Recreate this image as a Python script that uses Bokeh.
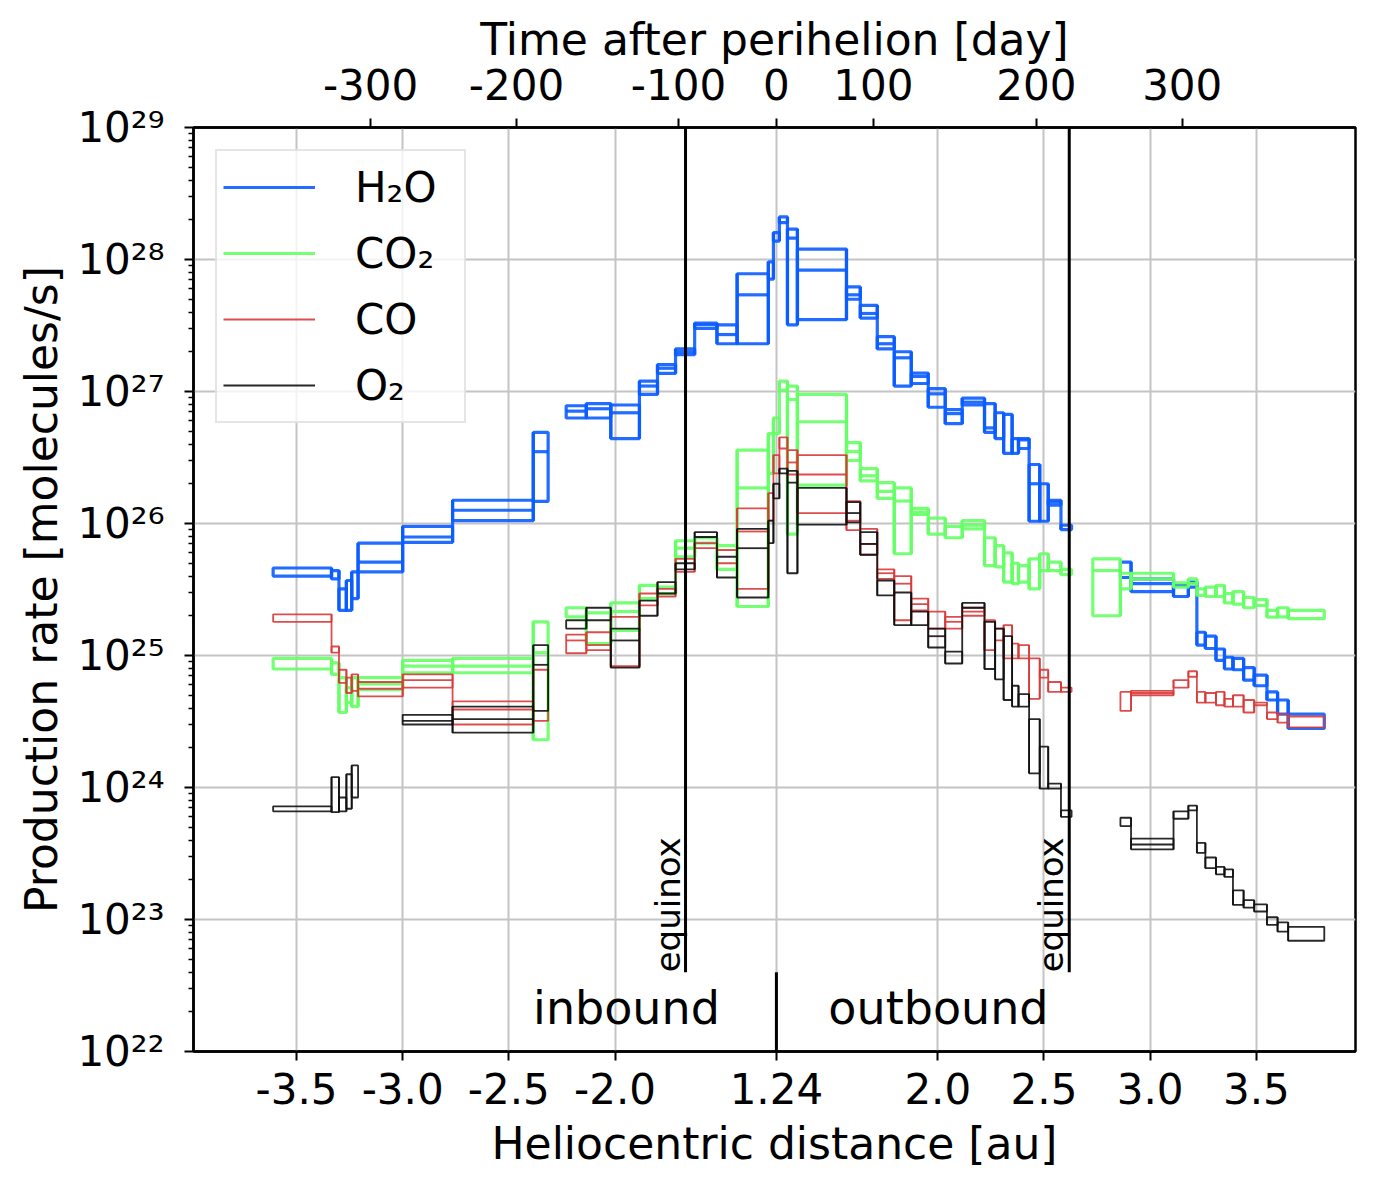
import math
from bokeh.plotting import figure
from bokeh.models import Range1d, FixedTicker, LinearAxis, Legend, LegendItem, ColumnDataSource
from bokeh.embed import file_html
from bokeh.resources import INLINE
from bokeh.core.properties import value

FONT = "DejaVu Sans"
R_PERI = 1.24  # perihelion distance [au]

# ---------------- data ----------------
# interval edges in signed heliocentric distance (negative = inbound) [au]
r_start = [-3.61, -3.335, -3.30, -3.265, -3.24, -3.21, -3.00, -2.765, -2.385,
           -2.23, -2.135, -2.02, -1.885, -1.80, -1.715, -1.625, -1.52, -1.425, -1.278, -1.254,
           1.254, 1.292, 1.339, 1.57, 1.635, 1.715, 1.795, 1.875, 1.955, 2.035, 2.115, 2.22, 2.27, 2.31, 2.35, 2.38, 2.43, 2.48, 2.52, 2.58,
           2.73, 2.86, 2.91, 3.11, 3.18, 3.22, 3.26, 3.31, 3.35, 3.39, 3.44, 3.49, 3.55, 3.60, 3.65]
r_end = [-3.335, -3.30, -3.265, -3.24, -3.21, -3.00, -2.765, -2.385, -2.315,
         -2.135, -2.02, -1.885, -1.80, -1.715, -1.625, -1.52, -1.425, -1.278, -1.254, 1.254,
         1.292, 1.339, 1.57, 1.635, 1.715, 1.795, 1.875, 1.955, 2.035, 2.115, 2.22, 2.27, 2.31, 2.35, 2.38, 2.43, 2.48, 2.52, 2.58, 2.63,
         2.86, 2.91, 3.11, 3.18, 3.22, 3.26, 3.31, 3.35, 3.39, 3.44, 3.49, 3.55, 3.60, 3.65, 3.82]

# production rates [molecules/s]: lower bound, middle, upper bound per interval
h2o_lo = [4.0e25, 3.8e25, 2.2e25, 2.2e25, 2.7e25, 4.3e25, 7.2e25, 1.05e26, 1.47e26,
          6.3e26, 6.3e26, 4.4e26, 9.5e26, 1.37e27, 1.9e27, 3.0e27, 2.3e27, 2.3e27, 7.1e27, 1.38e28,
          1.9e28, 3.2e27, 3.5e27, 5.0e27, 3.6e27, 2.1e27, 1.1e27, 1.15e27, 7.6e26, 5.7e26, 7.9e26, 4.9e26, 4.4e26, 3.4e26, 3.4e26, 3.7e26, 1.04e26, 1.04e26, 1.38e26, 9.0e25,
          None, 3.9e25, 3.05e25, 2.8e25, 3.3e25, 1.2e25, 1.13e25, 9.2e24, 7.9e24, 7.8e24, 6.5e24, 5.9e24, 4.6e24, 3.6e24, 2.8e24]
h2o_mid = [None, None, None, None, None, 5.1e25, 7.9e25, 1.26e26, 3.5e26,
           7.1e26, 7.4e26, 6.9e26, 1.1e27, 1.5e27, 2.0e27, 3.2e27, 2.7e27, 5.4e27, None, None,
           None, 1.45e28, 8.3e27, 5.4e27, 3.9e27, 2.3e27, 1.8e27, 1.3e27, 9.6e26, 6.8e26, 8.3e26, 5.3e26, None, None, None, 4.3e26, 2.0e26, None, 1.45e26, None,
           None, None, 3.5e25, None, None, None, None, None, None, None, None, None, None, None, None]
h2o_hi = [4.6e25, 4.4e25, 3.2e25, 3.7e25, 4.3e25, 7.1e25, 9.5e25, 1.5e26, 4.9e26,
          7.8e26, 8.1e26, 7.9e26, 1.2e27, 1.6e27, 2.1e27, 3.3e27, 3.2e27, 7.8e27, 9.6e27, 1.6e28,
          2.1e28, 1.7e28, 1.2e28, 6.2e27, 4.5e27, 2.6e27, 2.0e27, 1.38e27, 1.05e27, 7.3e26, 8.9e26, 8.1e26, 6.9e26, 6.7e26, 4.4e26, 4.4e26, 2.8e26, 2.0e26, 1.5e26, 9.7e25,
          None, 5.1e25, 3.8e25, 3.4e25, 3.6e25, 1.5e25, 1.4e25, 1.12e25, 9.7e24, 9.5e24, 8.1e24, 7.1e24, 5.3e24, 4.6e24, 3.6e24]

co2_lo = [7.9e24, 7.2e24, 3.7e24, 4.4e24, 4.1e24, 5.5e24, 7.4e24, 7.4e24, 2.3e24,
          1.96e25, 1.23e25, 1.55e25, 2.7e25, 2.95e25, 5.6e25, 7.1e25, 4.5e25, 2.35e25, 2.4e26, 4.8e26,
          1.02e27, 8.3e25, 1.95e26, 3.0e26, 2.1e26, 1.55e26, 5.9e25, 1.17e26, 8.3e25, 7.8e25, 9.1e25, 4.8e25, 4.7e25, 3.6e25, 3.5e25, 3.6e25, 3.2e25, 4.4e25, 4.4e25, 4.1e25,
          2.0e25, 3.2e25, 3.8e25, 3.3e25, 3.5e25, 2.85e25, 2.8e25, 2.8e25, 2.5e25, 2.45e25, 2.3e25, 2.4e25, 1.95e25, 1.96e25, 1.9e25]
co2_mid = [None, None, None, None, None, 6.1e24, 8.3e24, 8.3e24, 1.05e25,
           None, None, 2.15e25, None, None, 6.5e25, None, None, 1.86e26, None, None,
           None, 8.7e26, 5.9e26, 3.5e26, 2.3e26, 1.75e26, 1.48e26, 1.22e26, None, None, 9.7e25, None, None, None, None, None, None, None, None, None,
           4.4e25, None, None, None, None, None, None, None, None, None, None, None, None, None, None]
co2_hi = [9.5e24, 8.8e24, 6.8e24, 5.7e24, 6.8e24, 6.8e24, 9.2e24, 9.5e24, 1.8e25,
          2.3e25, 2.1e25, 2.5e25, 3.4e25, 3.3e25, 7.4e25, 7.8e25, 6.8e25, 3.6e26, 4.8e26, 6.3e26,
          1.2e27, 1.1e27, 9.5e26, 4.1e26, 2.6e26, 2.04e26, 1.86e26, 1.3e26, 1.1e26, 9.5e25, 1.05e26, 7.8e25, 6.8e25, 6.0e25, 5.0e25, 4.8e25, 5.4e25, 5.9e25, 5.1e25, 4.5e25,
          5.4e25, 4.2e25, 4.2e25, 3.55e25, 3.8e25, 3.2e25, 3.3e25, 3.4e25, 2.95e25, 3.05e25, 2.75e25, 2.65e25, 2.2e25, 2.3e25, 2.2e25]

co_lo = [1.8e25, 1.05e25, 6.2e24, 5.2e24, 5.4e24, 4.9e24, 5.7e24, 3.0e24, 3.2e24,
         1.04e25, 1.1e25, 8.3e24, 2.4e25, 2.8e25, 4.3e25, 6.5e25, 5.0e25, 3.2e25, 1.05e26, 2.4e26,
         3.7e26, 2.35e26, 1.2e26, 8.9e25, 5.8e25, 3.8e25, 1.85e25, 2.2e25, 1.6e25, 1.6e25, 2.0e25, 1.1e25, 1.3e25, 9.5e24, 9.5e24, 9.5e24, 4.7e24, 6.8e24, 5.3e24, 5.3e24,
         None, 3.8e24, 5.0e24, 5.7e24, 6.9e24, 4.4e24, 4.4e24, 4.2e24, 4.1e24, 4.1e24, 3.7e24, 4.2e24, 3.3e24, 3.1e24, 2.85e24]
co_mid = [None, None, None, None, None, 5.6e24, 6.5e24, 3.9e24, None,
          1.3e25, 1.2e25, None, None, None, None, None, None, 8.7e25, None, None,
          None, 2.9e26, 2.35e26, 1.05e26, 7.0e25, 4.2e25, 3.5e25, 2.45e25, None, 1.8e25, 2.15e25, None, None, None, None, None, None, None, None, None,
          None, None, 5.2e24, None, None, None, None, None, None, None, None, None, None, None, None]
co_hi = [2.05e25, 1.17e25, 7.8e24, 6.8e24, 7.2e24, 6.3e24, 7.2e24, 4.5e24, 7.8e24,
         1.44e25, 1.5e25, 1.96e25, 2.95e25, 3.2e25, 5.4e25, 7.1e25, 6.3e25, 1.3e26, 1.7e26, 3.3e26,
         4.5e26, 3.6e26, 3.3e26, 1.48e26, 9.1e25, 4.5e25, 4.0e25, 2.7e25, 2.15e25, 1.96e25, 2.3e25, 1.85e25, 1.6e25, 1.7e25, 1.23e25, 1.2e25, 9.5e24, 7.8e24, 6.3e24, 5.7e24,
         None, 5.3e24, 5.4e24, 6.5e24, 7.6e24, 5.3e24, 5.2e24, 5.3e24, 4.7e24, 5.0e24, 4.6e24, 4.4e24, 3.7e24, 3.6e24, 3.45e24]

o2_lo = [6.6e23, 6.5e23, 6.6e23, 6.9e23, 8.4e23, None, 3.0e24, 2.6e24, 3.8e24,
         1.6e25, 1.85e25, 8.1e24, 2.0e25, 2.95e25, 4.5e25, 7.9e25, 3.9e25, 2.75e25, 7.1e25, 1.55e26,
         2.4e26, 4.2e25, 9.8e25, 1.02e26, 5.8e25, 2.85e25, 1.7e25, 1.7e25, 1.15e25, 8.7e24, 2.3e25, 7.9e24, 6.6e24, 4.6e24, 4.1e24, 4.1e24, 1.28e24, 9.8e23, 9.8e23, 6.0e23,
         None, 5.1e23, 3.4e23, 5.8e23, 6.7e23, 3.2e23, 2.45e23, 2.2e23, 2.1e23, 1.29e23, 1.23e23, 1.15e23, 9.1e22, 8.1e22, 6.9e22]
o2_mid = [None, None, None, None, None, None, 3.2e24, 3.3e24, 8.5e24,
          None, None, 1.3e25, None, None, None, None, None, 6.5e25, None, None,
          None, 2.04e26, None, 1.2e26, 7.0e25, None, None, None, 1.4e25, None, None, None, None, None, None, None, None, None, None, None,
          None, None, 3.7e23, None, None, None, None, None, None, None, None, None, None, None, None]
o2_hi = [7.2e23, 1.2e24, 8.4e23, 1.26e24, 1.47e24, None, 3.55e24, 4.1e24, 1.2e25,
         1.85e25, 2.3e25, 1.6e25, 2.6e25, 3.6e25, 5.0e25, 8.6e25, 5.6e25, 9.1e25, 1.05e26, 2.0e26,
         2.6e26, 2.5e26, 1.86e26, 1.45e26, 8.6e25, 3.7e25, 3.0e25, 2.15e25, 1.6e25, 1.07e25, 2.5e25, 1.8e25, 1.6e25, 1.4e25, 5.9e24, 5.1e24, 3.3e24, 2.04e24, 1.07e24, 6.7e23,
         None, 5.9e23, 4.1e23, 6.6e23, 7.3e23, 3.8e23, 2.95e23, 2.5e23, 2.4e23, 1.66e23, 1.4e23, 1.3e23, 1.04e23, 9.5e22, 8.8e22]

species = ["H\u2082O", "CO\u2082", "CO", "O\u2082"]
colors = ["#0a5cff", "#66ff66", "#d83a3a", "#111111"]
widths = [3.2, 3.2, 1.8, 1.8]
series = [(h2o_lo, h2o_mid, h2o_hi), (co2_lo, co2_mid, co2_hi), (co_lo, co_mid, co_hi), (o2_lo, o2_mid, o2_hi)]

bottom_tick_r = [-3.5, -3.0, -2.5, -2.0, 1.24, 2.0, 2.5, 3.0, 3.5]
bottom_tick_labels = ["-3.5", "-3.0", "-2.5", "-2.0", "1.24", "2.0", "2.5", "3.0", "3.5"]
top_tick_days = [-300, -200, -100, 0, 100, 200, 300]
top_tick_r = [-3.151, -2.464, -1.701, 1.24, 1.697, 2.464, 3.151]  # distance at those days
y_decades = [22, 23, 24, 25, 26, 27, 28, 29]

equinox_r = [-1.668, 2.619]
phase_label_r = [-1.946, 2.003]
phase_labels = ["inbound", "outbound"]


def to_x(r):
    """signed heliocentric distance -> axis coordinate (perihelion at 0)"""
    return math.copysign(abs(r) - R_PERI, r)


# ---------------- figure ----------------
p = figure(width=1384, height=1186,
           x_range=Range1d(to_x(-3.985), to_x(3.967)),
           y_range=Range1d(1e22, 1e29), y_axis_type="log",
           output_backend="svg", toolbar_location=None,
           min_border_left=193, min_border_right=29,
           min_border_top=127, min_border_bottom=135)
p.background_fill_color = "white"
p.outline_line_color = "black"
p.outline_line_width = 2.5
p.outline_line_alpha = 1.0

# bottom axis
xb = p.below[0]
bt = [to_x(r) for r in bottom_tick_r]
xb.ticker = FixedTicker(ticks=bt)
xb.major_label_overrides = {t: l for t, l in zip(bt, bottom_tick_labels)}
xb.axis_label = "Heliocentric distance [au]"

# top axis
tt = [to_x(r) for r in top_tick_r]
xt = LinearAxis(ticker=FixedTicker(ticks=tt),
                major_label_overrides={t: str(d) for t, d in zip(tt, top_tick_days)},
                axis_label="Time after perihelion [day]")
p.add_layout(xt, "above")

# left axis
sup = str.maketrans("0123456789", "\u2070\u00b9\u00b2\u00b3\u2074\u2075\u2076\u2077\u2078\u2079")
y_major = [10.0 ** k for k in y_decades]
y_minor = [m * 10.0 ** k for k in y_decades[:-1] for m in range(2, 10)]
yl = p.left[0]
yl.ticker = FixedTicker(ticks=y_major, minor_ticks=y_minor)
yl.major_label_overrides = {v: "10" + str(k).translate(sup) for v, k in zip(y_major, y_decades)}
yl.axis_label = "Production rate [molecules/s]"

for ax in (xb, xt, yl):
    ax.major_label_text_font = FONT
    ax.major_label_text_font_size = "42px"
    ax.major_label_text_color = "black"
    ax.axis_label_text_font = FONT
    ax.axis_label_text_font_size = "44px"
    ax.axis_label_text_font_style = "normal"
    ax.axis_label_text_color = "black"
    ax.axis_line_color = "black"
    ax.axis_line_width = 2.5
    ax.major_tick_line_color = "black"
    ax.major_tick_line_width = 2
    ax.major_tick_in = 0
    ax.major_tick_out = 9
    ax.minor_tick_line_color = "black"
    ax.minor_tick_line_width = 1.5
    ax.minor_tick_in = 0
    ax.minor_tick_out = 5

xb.major_label_standoff = 12
xb.axis_label_standoff = 11
xt.major_label_standoff = 19
xt.axis_label_standoff = 1
yl.major_label_standoff = 20
yl.axis_label_standoff = 7

p.xgrid[0].ticker = xb.ticker
p.ygrid[0].ticker = yl.ticker
for g in (p.xgrid[0], p.ygrid[0]):
    g.grid_line_color = "#c4c4c4"
    g.grid_line_width = 2

# ---------------- data marks ----------------
n = len(r_start)
legend_items = []
for name, col, lw, (lo, mid, hi) in zip(species, colors, widths, series):
    idx = [i for i in range(n) if lo[i] is not None]
    src = ColumnDataSource(dict(
        left=[to_x(r_start[i]) for i in idx], right=[to_x(r_end[i]) for i in idx],
        bottom=[lo[i] for i in idx], top=[hi[i] for i in idx]))
    p.quad(left="left", right="right", bottom="bottom", top="top", source=src,
           fill_color=None, line_color=col, line_width=lw, line_alpha=0.9)
    # step connections between touching intervals
    cdx = [i for i in range(n - 1)
           if lo[i] is not None and lo[i + 1] is not None and r_end[i] == r_start[i + 1]]
    csrc = ColumnDataSource(dict(
        x=[to_x(r_end[i]) for i in cdx],
        y0=[min(lo[i], lo[i + 1]) for i in cdx],
        y1=[max(hi[i], hi[i + 1]) for i in cdx]))
    p.segment(x0="x", y0="y0", x1="x", y1="y1", source=csrc,
              line_color=col, line_width=lw, line_alpha=0.9)
    jdx = [i for i in range(n) if mid[i] is not None]
    msrc = ColumnDataSource(dict(
        x0=[to_x(r_start[i]) for i in jdx], x1=[to_x(r_end[i]) for i in jdx],
        y=[mid[i] for i in jdx]))
    mr = p.segment(x0="x0", y0="y", x1="x1", y1="y", source=msrc,
                   line_color=col, line_width=lw, line_alpha=0.9)
    legend_items.append(LegendItem(label=name, renderers=[mr]))

# equinox and perihelion markers
EQ_BOTTOM = 10 ** 22.6
eq_x = [to_x(r) for r in equinox_r]
p.segment(x0=eq_x, x1=eq_x, y0=[EQ_BOTTOM] * 2, y1=[1e29] * 2, line_color="black", line_width=3)
p.segment(x0=[0.0], x1=[0.0], y0=[1e22], y1=[EQ_BOTTOM], line_color="black", line_width=3)
p.text(x=eq_x, y=[EQ_BOTTOM] * 2, text=["equinox", "equinox"], angle=math.pi / 2,
       text_align="left", text_baseline="bottom", x_offset=2,
       text_font=value(FONT), text_font_size="34px", text_color="black")
p.text(x=[to_x(r) for r in phase_label_r], y=[10 ** 22.33] * 2, text=phase_labels,
       text_align="center", text_baseline="middle",
       text_font=value(FONT), text_font_size="46px", text_color="black")

legend = Legend(items=legend_items, location="top_left")
legend.label_text_font = FONT
legend.label_text_font_size = "42px"
legend.label_text_color = "black"
legend.glyph_width = 92
legend.glyph_height = 60
legend.label_height = 60
legend.label_width = 103
legend.spacing = 6
legend.padding = 6
legend.margin = 22
legend.label_standoff = 40
legend.border_line_color = "#cccccc"
legend.border_line_width = 2
legend.background_fill_alpha = 0.8
p.add_layout(legend)

open("out.html", "w").write(file_html(p, INLINE))
